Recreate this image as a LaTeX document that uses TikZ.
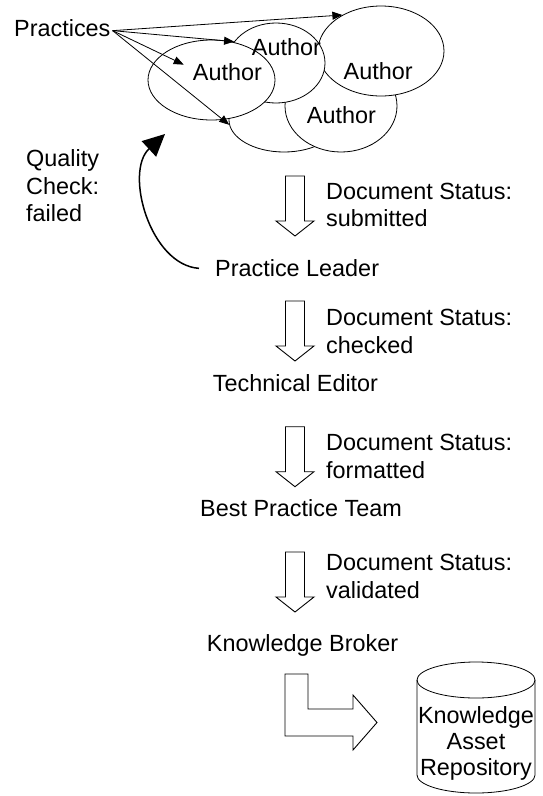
\documentclass[tikz,border=0pt]{standalone}
\usepackage{fontspec}
\setmainfont{Liberation Sans}
\usetikzlibrary{shapes.geometric,arrows.meta}

\begin{document}
\begin{tikzpicture}[x=1pt,y=1pt,
    every node/.style={font=\fontsize{23.4}{27.5}\selectfont,inner sep=0pt},
    txt/.style={anchor=base west},
    status/.style={anchor=base west,align=left},
    cloud/.style={ellipse,draw,fill=white,line width=0.8pt},
    feed/.style={line width=0.8pt,-{Triangle[length=10pt,width=8pt]}},
    hollow/.style={draw,line width=0.9pt,line join=miter}]

    \useasboundingbox (0,0) rectangle (543,-796);

    % author group, back to front
    \node[cloud,minimum width=110pt,minimum height=64pt] (e5) at (284,-120) {};
    \node[cloud,minimum width=112pt,minimum height=92pt] (e4) at (341,-106) {};
    \node[cloud,minimum width=126pt,minimum height=90pt] (e3) at (381,-51) {};
    \node[cloud,minimum width=98pt,minimum height=80pt] (e2) at (276,-63) {};
    \node[cloud,minimum width=127pt,minimum height=80pt] (e1) at (211.5,-80) {};

    \node[txt] (a1) at (192.7,-80) {Author};
    \node[txt] (a2) at (251.7,-55) {Author};
    \node[txt] (a3) at (343.5,-79) {Author};
    \node[txt] (a4) at (306.7,-123.5) {Author};

    \node[txt] (prac) at (14,-36) {Practices};
    \coordinate (src) at ([shift={(2pt,-3pt)}]prac.east);
    \draw[feed] (src) -- (e3.137);
    \draw[feed] (src) -- (e2.153);
    \draw[feed] (src) -- ([shift={(-9pt,7pt)}]a1.west);
    \draw[feed] (src) -- (e5.185);

    % roles
    \node[txt] (pl) at (215,-276.7) {Practice Leader};
    \node[txt] (te) at (212.7,-391) {Technical Editor};
    \node[txt] (bpt) at (200,-516) {Best Practice Team};
    \node[txt] (kb) at (206.7,-651) {Knowledge Broker};

    % rejected documents go back
    \node[status] (qc) at (26,-221.7) {Quality\\Check:\\failed};
    \coordinate (back) at (165,-134);
    \draw[line width=1.5pt,-{Triangle[length=22pt,width=21pt]}]
        ([xshift=-16pt]pl.west) .. controls (150,-265) and (124,-172) .. (back);

    % status steps (base = last line)
    \foreach \ytop/\state/\gap [count=\i] in {176/submitted/50.7,301/checked/52.3,426.7/formatted/51.3,552/validated/46.3} {
        \draw[hollow] (285.5,-\ytop) -- ++(19,0) -- ++(0,-45) -- ++(9.5,0) -- ++(-19,-15)
            -- ++(-19,15) -- ++(9.5,0) -- cycle;
        \node[status] (st\i) at (326,-\ytop-\gap) {Document Status:\\\state};
    }

    % hand over to the repository
    \draw[hollow] (285,-674) -- (308,-674) -- (308,-709) -- (353,-709) -- (353,-695)
        -- (377,-722.5) -- (353,-750) -- (353,-736) -- (285,-736) -- cycle;
    \draw[line width=0.8pt] (476,-680) ellipse [x radius=59,y radius=18];
    \draw[line width=0.8pt] (417,-680) -- (417,-775)
        arc[start angle=180,end angle=360,x radius=59,y radius=18] -- (535,-680);
    \node[anchor=base,align=center,font=\fontsize{23.4}{26}\selectfont] (repo) at (476,-775) {Knowledge\\Asset\\Repository};

\end{tikzpicture}
\end{document}
